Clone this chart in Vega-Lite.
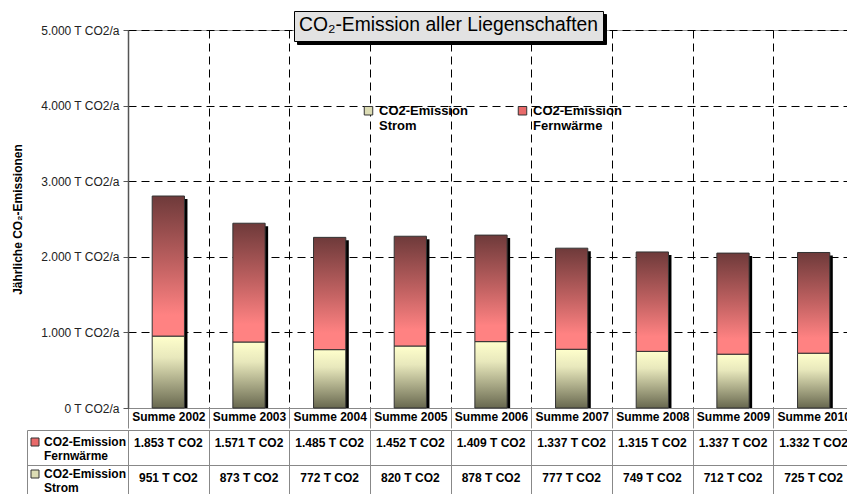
{
  "$schema": "https://vega.github.io/schema/vega-lite/v6.json",
  "padding": {"left": 10, "top": 10, "right": 0, "bottom": 0},
  "background": "white",
  "config": {
    "font": "Liberation Sans",
    "locale": {"number": {"decimal": ",", "thousands": ".", "grouping": [3], "currency": ["", " T CO2"]}},
    "view": {"stroke": "#999"},
    "legend": {"symbolOpacity": 1}
  },
  "data": {"values": [
    {"jahr": "Summe 2002", "typ": "Strom", "wert": 951},
    {"jahr": "Summe 2002", "typ": "Fernwärme", "wert": 1853},
    {"jahr": "Summe 2003", "typ": "Strom", "wert": 873},
    {"jahr": "Summe 2003", "typ": "Fernwärme", "wert": 1571},
    {"jahr": "Summe 2004", "typ": "Strom", "wert": 772},
    {"jahr": "Summe 2004", "typ": "Fernwärme", "wert": 1485},
    {"jahr": "Summe 2005", "typ": "Strom", "wert": 820},
    {"jahr": "Summe 2005", "typ": "Fernwärme", "wert": 1452},
    {"jahr": "Summe 2006", "typ": "Strom", "wert": 878},
    {"jahr": "Summe 2006", "typ": "Fernwärme", "wert": 1409},
    {"jahr": "Summe 2007", "typ": "Strom", "wert": 777},
    {"jahr": "Summe 2007", "typ": "Fernwärme", "wert": 1337},
    {"jahr": "Summe 2008", "typ": "Strom", "wert": 749},
    {"jahr": "Summe 2008", "typ": "Fernwärme", "wert": 1315},
    {"jahr": "Summe 2009", "typ": "Strom", "wert": 712},
    {"jahr": "Summe 2009", "typ": "Fernwärme", "wert": 1337},
    {"jahr": "Summe 2010", "typ": "Strom", "wert": 725},
    {"jahr": "Summe 2010", "typ": "Fernwärme", "wert": 1332}
  ]},
  "spacing": 0,
  "resolve": {"legend": {"color": "independent", "strokeDash": "independent", "strokeWidth": "independent"}},
  "vconcat": [
    {
      "width": 726,
      "height": 378,
      "transform": [{"stack": "wert", "groupby": ["jahr"], "sort": [{"field": "typ", "order": "descending"}], "as": ["y0", "y1"]}],
      "encoding": {
        "x": {"field": "jahr", "type": "nominal", "scale": {"paddingInner": 0, "paddingOuter": 0},
          "axis": {"title": null, "orient": "bottom", "tickBand": "extent", "grid": true, "gridDash": [8, 5], "gridColor": "#000", "gridOpacity": 1,
            "ticks": true, "tickSize": 20, "tickColor": "#888", "domainColor": "#888", "labelAngle": 0,
            "labelFont": "Liberation Sans", "labelFontSize": 12, "labelFontWeight": "bold", "labelColor": "#000", "labelPadding": -17, "labelBaseline": "top"}},
        "y": {"field": "y1", "type": "quantitative", "scale": {"domain": [0, 5000], "nice": false},
          "axis": {"title": "Jährliche CO₂-Emissionen", "titleFont": "Liberation Sans", "titleFontSize": 12, "titleFontWeight": "bold", "titleColor": "#000", "titlePadding": 16,
            "values": [0, 1000, 2000, 3000, 4000, 5000], "format": ",.0f", "labelExpr": "datum.label + ' T CO2/a'",
            "labelFont": "Liberation Sans", "labelFontSize": 12, "labelColor": "#222", "labelPadding": 4, "tickSize": 5, "tickColor": "#555",
            "domainColor": "#555", "domainWidth": 1.5, "grid": true, "gridDash": [8, 5], "gridColor": "#000", "gridOpacity": 1}}
      },
      "layer": [
        {"transform": [{"filter": "datum.typ === 'Fernwärme'"}],
         "mark": {"type": "bar", "fill": "black", "width": {"band": 0.4}, "xOffset": 3, "yOffset": 3},
         "encoding": {"y2": {"datum": 0}}},
        {"transform": [{"filter": "datum.typ === 'Strom'"}],
         "mark": {"type": "bar", "width": {"band": 0.4}, "stroke": "#333", "strokeWidth": 1,
           "fill": {"gradient": "linear", "x1": 0, "y1": 0, "x2": 0, "y2": 1, "stops": [
             {"offset": 0, "color": "#ffffcc"}, {"offset": 0.3, "color": "#e8e8bc"}, {"offset": 1, "color": "#68684f"}]}},
         "encoding": {"y2": {"field": "y0"}}},
        {"transform": [{"filter": "datum.typ === 'Fernwärme'"}],
         "mark": {"type": "bar", "width": {"band": 0.4}, "stroke": "#333", "strokeWidth": 1,
           "fill": {"gradient": "linear", "x1": 0, "y1": 0, "x2": 0, "y2": 1, "stops": [
             {"offset": 0, "color": "#6e3a3a"}, {"offset": 0.5, "color": "#c26262"}, {"offset": 0.85, "color": "#ff8282"}, {"offset": 1, "color": "#ff8282"}]}},
         "encoding": {"y2": {"field": "y0"}}},
        {"mark": {"type": "bar", "opacity": 0, "width": {"band": 0.4}},
         "encoding": {"y2": {"field": "y0"},
           "color": {"field": "typ", "type": "nominal", "scale": {"domain": ["Strom", "Fernwärme"], "range": ["#dcdcb4", "#e86a6a"]},
             "legend": {"orient": "none", "legendX": 234, "legendY": 74, "direction": "horizontal", "title": null,
               "symbolType": "square", "symbolSize": 72, "symbolStrokeColor": "#333", "symbolStrokeWidth": 1,
               "labelFont": "Liberation Sans", "labelFontSize": 13, "labelFontWeight": "bold", "labelColor": "#000", "labelLimit": 300,
               "labelExpr": "['CO2-Emission', datum.label]", "columnPadding": 48, "labelOffset": 4}},
           "strokeDash": {"field": "typ", "type": "nominal",
             "legend": {"orient": "none", "legendX": 166, "legendY": -19, "values": [], "title": "CO₂-Emission aller Liegenschaften",
               "titleFont": "Liberation Sans", "titleFontSize": 19.3, "titleFontWeight": "normal", "titleColor": "#000", "titleLimit": 600, "titlePadding": 0,
               "padding": 5, "strokeColor": "#000", "fillColor": "#e2e2e2", "zindex": 3}},
           "strokeWidth": {"field": "wert", "type": "quantitative",
             "legend": {"orient": "none", "legendX": 169, "legendY": -16, "values": [], "title": "CO₂-Emission aller Liegenschaften",
               "titleFont": "Liberation Sans", "titleFontSize": 19.3, "titleFontWeight": "normal", "titleColor": "transparent", "titleLimit": 600, "titlePadding": 0,
               "padding": 5, "strokeColor": "#000", "fillColor": "#000", "zindex": 2}}}}
      ]
    },
    {
      "width": 726,
      "height": 70,
      "encoding": {
        "x": {"field": "jahr", "type": "nominal", "scale": {"paddingInner": 0, "paddingOuter": 0},
          "axis": {"title": null, "labels": false, "ticks": false, "domain": false, "tickBand": "extent", "grid": true, "gridColor": "#888", "gridOpacity": 1}},
        "y": {"field": "typ", "type": "nominal", "sort": ["Fernwärme", "Strom"], "scale": {"paddingInner": 0, "paddingOuter": 0},
          "axis": {"title": null, "labels": false, "orient": "left", "offset": 101, "domain": true, "domainColor": "#888",
            "ticks": true, "tickSize": -101, "tickColor": "#888", "tickBand": "extent", "grid": true, "gridColor": "#888", "gridOpacity": 1}}
      },
      "layer": [
        {"mark": {"type": "text", "font": "Liberation Sans", "fontSize": 12, "fontWeight": "bold", "color": "#000", "dy": -5},
         "encoding": {"text": {"field": "wert", "type": "quantitative", "format": "$,.0f"}}},
        {"mark": {"type": "bar", "opacity": 0},
         "encoding": {"color": {"field": "typ", "type": "nominal", "scale": {"domain": ["Strom", "Fernwärme"], "range": ["#dcdcb4", "#e86a6a"]},
           "legend": {"orient": "none", "legendX": -99, "legendY": 6, "direction": "vertical", "title": null, "values": ["Fernwärme", "Strom"],
             "symbolType": "square", "symbolSize": 64, "symbolStrokeColor": "#333", "symbolStrokeWidth": 1,
             "labelFont": "Liberation Sans", "labelFontSize": 12, "labelFontWeight": "bold", "labelColor": "#000", "labelLimit": 300,
             "labelExpr": "['CO2-Emission', datum.label]", "rowPadding": 6, "labelOffset": 3}}}}
      ]
    }
  ]
}
